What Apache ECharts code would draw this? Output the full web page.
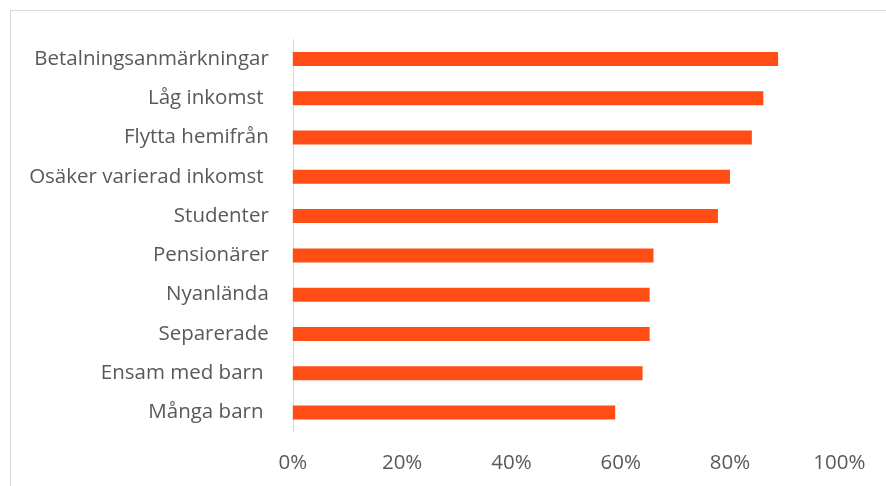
<!DOCTYPE html>
<html><head><meta charset="utf-8">
<script src="https://cdn.jsdelivr.net/npm/echarts@6/dist/echarts.min.js"></script>
<style>html,body{margin:0;padding:0;background:#fff}#c{width:886px;height:486px}</style>
</head><body><div id="c"></div>
<script>
const categories = ["Betalningsanmärkningar","Låg inkomst ","Flytta hemifrån","Osäker varierad inkomst ","Studenter","Pensionärer","Nyanlända","Separerade","Ensam med barn ","Många barn "];
const values = [0.888,0.861,0.840,0.800,0.778,0.660,0.653,0.653,0.640,0.590];
const xTicks = [0,0.2,0.4,0.6,0.8,1.0];

const chart = echarts.init(document.getElementById('c'), null, {renderer:'canvas'});
const font = '"Open Sans", sans-serif';
chart.setOption({
  animation:false,
  graphic:[{type:'rect',shape:{x:10.5,y:10.5,width:900,height:500},style:{fill:'none',stroke:'#d9d9d9',lineWidth:1},silent:true}],
  grid:{left:292.8,right:46.7,top:39.4,bottom:53.9,containLabel:false},
  xAxis:{type:'value',min:xTicks[0],max:xTicks[xTicks.length-1],interval:0.2,
    axisLine:{show:false},axisTick:{show:false},splitLine:{show:false},
    axisLabel:{margin:21,color:'#595959',fontSize:20.5,fontFamily:font,
      formatter:v=>Math.round(v*100)+'%'}},
  yAxis:{type:'category',data:categories,inverse:true,
    axisLine:{show:true,lineStyle:{color:'#d9d9d9',width:1}},axisTick:{show:false},
    axisLabel:{margin:24,color:'#595959',fontSize:20.5,fontFamily:font}},
  series:[{type:'bar',data:values,barWidth:14,itemStyle:{color:'#FF4D15'}}]
});
</script></body></html>
